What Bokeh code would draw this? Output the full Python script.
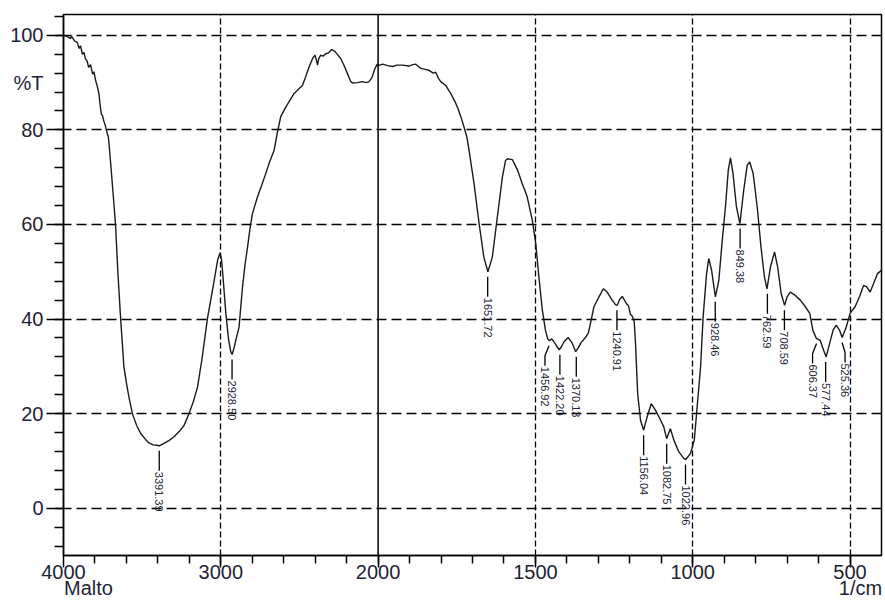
import math
from bokeh.plotting import figure
from bokeh.models import Range1d, FixedTicker, Span, ColumnDataSource, LinearAxis
from bokeh.core.properties import value
from bokeh.embed import file_html
from bokeh.resources import INLINE

# ---------------- data ----------------
wavenumber = [
    4000, 3980, 3970, 3955, 3950, 3930, 3913, 3900, 3892, 3880, 3870, 3860, 3850,
    3840, 3828, 3815, 3807, 3796, 3785, 3775, 3768, 3760, 3752, 3743, 3735, 3722,
    3715, 3711, 3700, 3683, 3669, 3654, 3637, 3616, 3600, 3584, 3562, 3535, 3509,
    3480, 3457, 3430, 3408, 3391, 3361, 3330, 3297, 3265, 3234, 3202, 3175, 3148,
    3120, 3085, 3060, 3042, 3020, 3005, 2995, 2985, 2968, 2950, 2936, 2928, 2915,
    2905, 2884, 2862, 2846, 2830, 2815, 2799, 2767, 2740, 2714, 2690, 2661, 2640,
    2619, 2587, 2560, 2534, 2500, 2481, 2460, 2439, 2415, 2401, 2392, 2385, 2378,
    2365, 2350, 2333, 2315, 2295, 2275, 2255, 2238, 2215, 2195, 2175, 2164, 2130,
    2100, 2075, 2058, 2040, 2020, 2005,
    2000, 1986, 1970, 1954, 1940, 1923, 1902, 1890, 1880, 1872, 1864, 1850, 1838,
    1825, 1817, 1808, 1801, 1785, 1775, 1769, 1760, 1753, 1745, 1737, 1727, 1718,
    1711, 1695, 1679, 1664, 1651, 1637, 1621, 1605, 1595, 1589, 1573, 1565, 1557,
    1550, 1542, 1534, 1526, 1510, 1499, 1489, 1478, 1468, 1461, 1456, 1448, 1441,
    1432, 1424, 1416, 1409, 1396, 1383, 1372, 1363, 1356, 1340, 1332, 1325, 1314,
    1298, 1284, 1272, 1256, 1245, 1240, 1232, 1224, 1217, 1211, 1204, 1198, 1192,
    1186, 1182, 1175, 1166, 1156, 1145, 1132, 1118, 1102, 1092, 1083, 1071, 1060,
    1044, 1028, 1022, 1007, 995, 986, 975, 967, 956, 949, 940, 928, 917, 907, 896,
    887, 880, 872, 861, 850, 838, 827, 819, 808, 795, 783, 772, 764, 753, 740, 730,
    719, 708, 700, 690, 674, 658, 642, 628, 618, 607, 595, 584, 576, 565, 554, 544,
    533, 525, 512, 500, 484, 470, 457, 447, 436, 425, 413, 400,
]
transmittance = [
    100.0, 99.8, 99.6, 99.3, 99.9, 98.8, 98.5, 97.2, 97.8, 96.0, 96.4, 95.0, 94.6,
    93.2, 93.8, 91.8, 92.3, 90.5, 89.2, 87.7, 85.5, 83.4, 83.0, 81.8, 81.0, 79.3,
    78.5, 77.2, 72.9, 65.8, 59.8, 49.7, 40.2, 29.9, 26.5, 23.5, 20.0, 17.5, 15.8,
    14.6, 13.8, 13.4, 13.3, 13.2, 13.7, 14.3, 15.1, 16.2, 17.5, 20.0, 22.5, 25.6,
    31.5, 40.1, 44.8, 48.2, 52.5, 54.0, 52.5, 48.5, 41.2, 35.5, 33.0, 32.5, 34.0,
    35.5, 38.3, 46.8, 51.5, 55.2, 59.0, 62.3, 65.8, 68.3, 70.8, 73.2, 75.7, 79.5,
    82.8, 84.8, 86.3, 87.7, 88.8, 89.4, 91.3, 93.3, 95.2, 95.8, 94.7, 93.7, 95.0,
    95.8, 95.6, 96.1, 96.3, 97.0, 96.6, 95.8, 95.1, 93.5, 91.9, 90.3, 89.9, 90.0,
    90.2, 90.0, 90.2, 91.0, 93.0, 93.9,
    93.6, 93.9, 93.6, 93.4, 93.7, 93.7, 93.5, 93.8, 93.9, 93.4, 93.0, 92.8, 92.6,
    92.0, 92.2, 90.9, 90.2, 89.4, 88.3, 87.7, 86.5, 85.6, 84.3, 82.8, 80.6, 78.5,
    75.7, 68.6, 60.2, 53.1, 50.0, 53.1, 61.6, 70.0, 73.5, 73.9, 73.7, 72.6, 71.5,
    70.2, 68.6, 67.3, 65.8, 60.9, 56.0, 48.9, 41.9, 37.6, 35.8, 35.4, 35.8, 35.2,
    34.2, 33.5, 34.3, 35.2, 36.1, 34.9, 33.1, 34.0, 34.9, 36.2, 37.0, 39.1, 42.6,
    44.7, 46.4, 45.7, 44.0, 43.0, 42.9, 44.2, 44.8, 44.0, 43.3, 42.8, 41.0, 40.6,
    39.5, 35.0, 24.2, 18.6, 16.5, 19.3, 22.1, 20.7, 18.6, 17.2, 14.7, 16.8, 14.4,
    11.9, 10.5, 10.3, 11.6, 14.4, 21.4, 29.9, 40.4, 49.6, 52.8, 50.3, 44.7, 48.2,
    56.0, 63.7, 71.5, 74.1, 70.8, 63.7, 60.2, 67.2, 72.5, 73.2, 70.8, 63.7, 55.2,
    48.9, 46.4, 51.0, 54.2, 51.0, 45.4, 42.9, 44.7, 45.7, 45.0, 44.0, 42.6, 41.2,
    37.6, 35.9, 35.5, 33.4, 32.0, 34.8, 37.6, 38.7, 37.6, 36.1, 38.3, 41.2, 42.6,
    44.7, 47.1, 46.8, 45.7, 47.5, 49.6, 50.3,
]

peak_labels = ["3391.39", "2928.50", "1651.72", "1456.92", "1422.20", "1370.13",
               "1240.91", "1156.04", "1082.75", "1022.96", "928.46", "849.38",
               "762.59", "708.59", "606.37", "577.44", "525.36"]
peak_T = [13.2, 32.5, 50.0, 35.4, 33.5, 33.1, 42.9, 16.5, 14.7, 10.3, 44.7, 60.2,
          46.4, 42.9, 35.9, 32.0, 36.1]

x_tick_values = [4000, 3000, 2000, 1500, 1000, 500]
y_tick_values = [0, 20, 40, 60, 80, 100]
y_label = "%T"
x_unit = "1/cm"
sample_name = "Malto"

# ---------------- layout / style constants ----------------
W, H = 885, 601
ML, MR, MT, MB = 63, 4, 14, 46
Y_LO, Y_HI = -10, 104.4
X_LO_U, X_HI_U = 400, 3000
Y_LABEL_POS = 90                 # %T sits between 80 and 100
label_dx_px = [0, 0, 0, -4, 0, 0, 0, 0, 0, 0, 0, 0, 0, 0, -4, 0, 3]
TXT = "#1e2436"
FONT = "Liberation Sans"
FS = "20px"

def to_axis(w):
    # scale changes at 2000 1/cm: above it, half the scale
    return w if w <= 2000 else 2000 + (w - 2000) / 2.0

frame_w = W - ML - MR
frame_h = H - MT - MB
px_per_T = frame_h / (Y_HI - Y_LO)
u_per_px = (X_HI_U - X_LO_U) / frame_w

p = figure(width=W, height=H, output_backend="svg", toolbar_location=None,
           x_range=Range1d(X_HI_U, X_LO_U), y_range=Range1d(Y_LO, Y_HI),
           min_border_left=ML, min_border_right=MR, min_border_top=MT,
           min_border_bottom=MB)
p.background_fill_color = "white"
p.border_fill_color = "white"
p.outline_line_color = "black"
p.outline_line_width = 1.5

# grids
p.xgrid.ticker = FixedTicker(ticks=[to_axis(v) for v in x_tick_values if v not in (4000, 2000)])
p.xgrid.grid_line_color = "black"
p.xgrid.grid_line_dash = "6 3"
p.xgrid.grid_line_width = 1.3
p.ygrid.ticker = FixedTicker(ticks=y_tick_values)
p.ygrid.grid_line_color = "black"
p.ygrid.grid_line_dash = "10 5"
p.ygrid.grid_line_width = 1.3
p.add_layout(Span(location=to_axis(2000), dimension="height", line_color="black",
                  line_width=1.5))

def style_axis(ax):
    ax.axis_line_color = "black"
    ax.axis_line_width = 1.5
    ax.major_tick_line_color = "black"
    ax.major_tick_line_width = 1.5
    ax.minor_tick_line_color = "black"
    ax.minor_tick_line_width = 1.5
    ax.major_tick_in = 0
    ax.minor_tick_in = 0
    ax.major_label_text_font = FONT
    ax.major_label_text_font_size = FS
    ax.major_label_text_color = TXT

# bottom axis: ticks + numbers
xa = p.xaxis[0]
style_axis(xa)
xa.ticker = FixedTicker(ticks=[to_axis(v) for v in x_tick_values],
                        minor_ticks=list(range(500, 3000, 100)))
xa.major_label_overrides = {to_axis(v): str(v) for v in x_tick_values}
xa.major_tick_out = 12
xa.minor_tick_out = 8
xa.major_label_standoff = -3

# second bottom row: sample name (left) and unit (right)
name_u = X_HI_U - 25 * u_per_px
unit_u = X_LO_U + 21 * u_per_px
xb = LinearAxis(ticker=FixedTicker(ticks=[name_u, unit_u], minor_ticks=[]))
style_axis(xb)
xb.axis_line_color = None
xb.major_tick_line_color = None
xb.major_tick_out = 0
xb.major_label_standoff = -5
xb.major_label_overrides = {name_u: sample_name, unit_u: x_unit}
p.add_layout(xb, "below")

# left axis: ticks only
ya = p.yaxis[0]
style_axis(ya)
ya.ticker = FixedTicker(ticks=y_tick_values, minor_ticks=list(range(-8, 105, 4)))
ya.major_label_overrides = {v: "" for v in y_tick_values}
ya.major_label_standoff = 0
ya.major_tick_out = 17
ya.minor_tick_out = 9

# left labels (numbers and %T), further out
yb = LinearAxis(ticker=FixedTicker(ticks=y_tick_values + [Y_LABEL_POS], minor_ticks=[]))
style_axis(yb)
yb.axis_line_color = None
yb.major_tick_line_color = None
yb.major_tick_out = 0
yb.major_label_standoff = 3
yb.major_label_overrides = {Y_LABEL_POS: y_label}
p.add_layout(yb, "left")

# spectrum
src = ColumnDataSource(dict(x=[to_axis(w) for w in wavenumber], y=transmittance))
p.line("x", "y", source=src, line_color="#1a1a1a", line_width=1.4)

# peak markers
xs, ys, tx, ty = [], [], [], []
for lab, t, dx in zip(peak_labels, peak_T, label_dx_px):
    x0 = to_axis(float(lab))
    x1 = x0 - dx * u_per_px
    y0 = t - 5 / px_per_T
    ym = y0 - 10 / px_per_T
    y1 = t - 25 / px_per_T
    xs.append([x0, x1, x1])
    ys.append([y0, ym, y1])
    tx.append(x1)
    ty.append(t - 26 / px_per_T)
p.multi_line(xs, ys, line_color="black", line_width=1.3)
p.text(x=tx, y=ty, text=peak_labels, angle=-math.pi / 2, text_align="left",
       text_baseline="middle", text_font=value(FONT), text_font_size=value("11px"),
       text_color=TXT)

open("out.html", "w").write(file_html(p, INLINE))
